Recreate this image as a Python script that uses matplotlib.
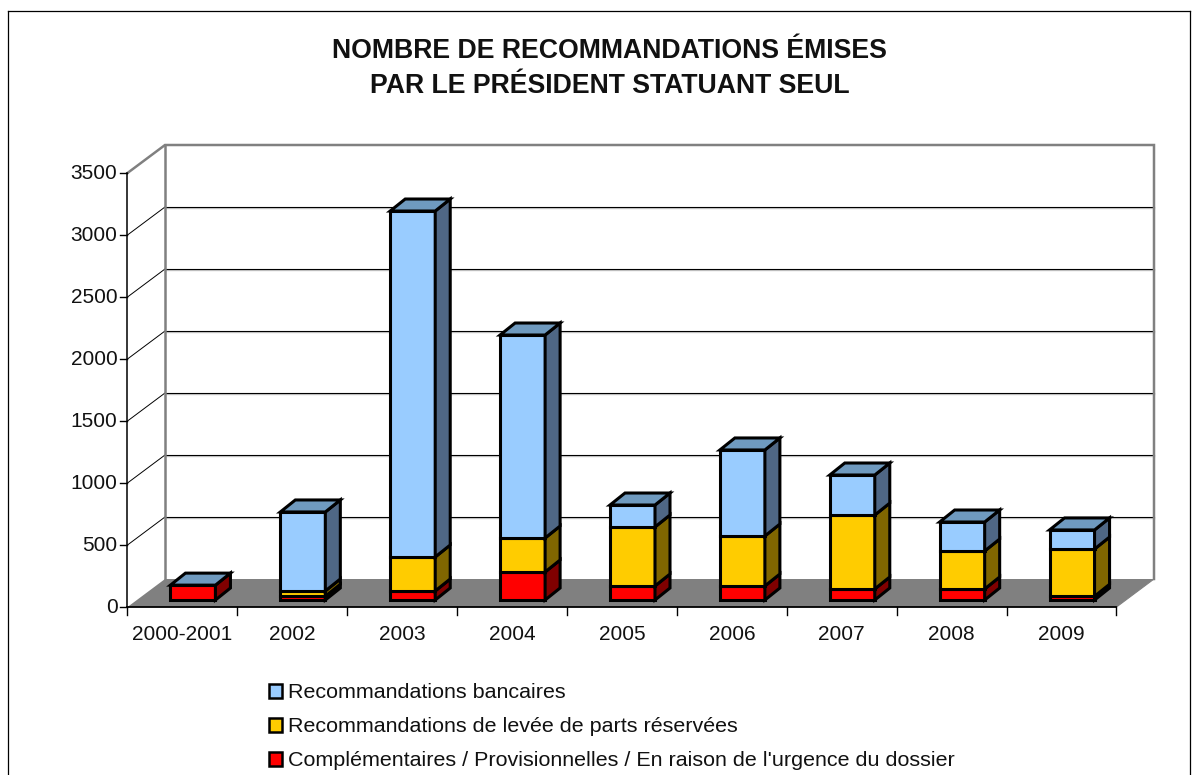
import numpy as np
import matplotlib
matplotlib.use('Agg')
import matplotlib.pyplot as plt
from matplotlib.patches import Patch
from matplotlib.transforms import ScaledTranslation

categories = ['2000-2001', '2002', '2003', '2004', '2005', '2006', '2007', '2008', '2009']
complementaires = [120, 30, 73, 226, 113, 113, 89, 89, 30]
levee_parts = [0, 43, 274, 274, 476, 403, 596, 306, 381]
bancaires = [0, 637, 2790, 1637, 177, 694, 323, 234, 154]
y_ticks = [0, 500, 1000, 1500, 2000, 2500, 3000, 3500]

title = 'NOMBRE DE RECOMMANDATIONS ÉMISES\nPAR LE PRÉSIDENT STATUANT SEUL'
series_labels = ['Recommandations bancaires',
                 'Recommandations de levée de parts réservées',
                 "Complémentaires / Provisionnelles / En raison de l'urgence du dossier"]

W, H = 1198, 775
x0_px, y0_px = 127.5, 607.0      # value 0, first category edge
px_x = (1116.5 - x0_px) / len(categories)   # pixels per category
px_y = 62.0 / 500                # pixels per unit

plt.rcParams['font.family'] = ['Liberation Sans', 'DejaVu Sans']

fig = plt.figure(figsize=(W / 100, H / 100), dpi=100)
ax = fig.add_axes([0, 0, 1, 1])
ax.set_xlim(-x0_px / px_x, (W - x0_px) / px_x)
ax.set_ylim((y0_px - H) / px_y, y0_px / px_y)
ax.axis('off')


def dx(p):
    return p / px_x


def dy(p):
    return p / px_y


n = len(categories)
wall_x, wall_y = dx(37.5), dy(28)
top = y_ticks[-1]
GREY = '#808080'

# outer frame
ax.plot([dx(8 - x0_px)] * 2, [ax.get_ylim()[0], dy(y0_px - 11)], color='k', lw=0.9)
ax.plot([dx(1190 - x0_px)] * 2, [ax.get_ylim()[0], dy(y0_px - 11)], color='k', lw=0.9)
ax.plot([dx(8 - x0_px), dx(1190 - x0_px)], [dy(y0_px - 11)] * 2, color='k', lw=0.9)

# floor
ax.fill([0, n, n + wall_x, wall_x], [0, 0, wall_y, wall_y], color=GREY, lw=0, zorder=1)

# grid lines on the wall and side
shadow = ax.transData + ScaledTranslation(0, -1.2 / 100, fig.dpi_scale_trans)
for v in y_ticks[1:-1]:
    ax.plot([wall_x, n + wall_x], [v + wall_y] * 2, color='#c8c8c8', lw=1.0, zorder=1, transform=shadow)
    ax.plot([wall_x, n + wall_x], [v + wall_y] * 2, color='k', lw=0.8, zorder=1.1)
    ax.plot([0, wall_x], [v, v + wall_y], color='k', lw=0.7, zorder=1.1)

# wall border
ax.plot([0, wall_x, n + wall_x, n + wall_x], [top, top + wall_y, top + wall_y, wall_y],
        color=GREY, lw=1.8, zorder=1.2, solid_joinstyle='miter')
ax.plot([wall_x, wall_x], [wall_y, top + wall_y], color=GREY, lw=1.8, zorder=1.2)
ax.plot([n, n + wall_x], [0, wall_y], color=GREY, lw=0.8, zorder=1.2)

# axes
ax.plot([0, 0], [0, top], color='k', lw=1.1, zorder=1.3)
ax.plot([0, n], [0, 0], color='k', lw=1.3, zorder=1.3)
for v in y_ticks:
    ax.plot([dx(-7), 0], [v, v], color='k', lw=1.0, zorder=1.3)
    ax.text(dx(-10), v + dy(-0.8), str(v), ha='right', va='center', fontsize=15, color='#111111')
for i in range(n + 1):
    ax.plot([i, i], [0, dy(-8)], color='k', lw=1.0, zorder=1.3)
for i, c in enumerate(categories):
    ax.text(i + 0.5, dy(-27), c, ha='center', va='center', fontsize=15, color='#111111')

# stacked 3D bars
fronts = ['#ff0000', '#ffcc00', '#99ccff']
sides = ['#800000', '#806600', '#4f6785']
top_face = '#6f9abf'
bar_w = dx(45)
off_x, off_y = dx(10.5), dy(7)
dep_x, dep_y = dx(15), dy(12)
stacks = [complementaires, levee_parts, bancaires]
ec = dict(edgecolor='k', linewidth=2.2, joinstyle='miter')

for i in range(n):
    left = i + 0.5 - bar_w / 2 + off_x
    right = left + bar_w
    base = off_y
    z = 3 + i
    for vals, fc, sc in zip(stacks, fronts, sides):
        h = vals[i]
        if h <= 0:
            continue
        ax.fill([left, right, right, left], [base, base, base + h, base + h], facecolor=fc, zorder=z, **ec)
        ax.fill([right, right + dep_x, right + dep_x, right],
                [base, base + dep_y, base + h + dep_y, base + h], facecolor=sc, zorder=z, **ec)
        base += h
    ax.fill([left, right, right + dep_x, left + dep_x],
            [base, base, base + dep_y, base + dep_y], facecolor=top_face, zorder=z, **ec)

ax.text(dx(609.5 - x0_px), dy(y0_px - 68.5), title, ha='center', va='center', fontsize=19.2,
        fontweight='bold', linespacing=1.45, color='#111111')

handles = [Patch(facecolor=c, edgecolor='k', linewidth=1.8) for c in fronts[::-1]]
ax.legend(handles, series_labels, frameon=False, fontsize=15.45, ncol=1,
          loc='upper left', bbox_to_anchor=(264.7 / W, 1 - 679 / H),
          handlelength=0.62, handleheight=0.62, handletextpad=0.27,
          labelspacing=0.7, borderpad=0.2, borderaxespad=0, labelcolor='#111111')

fig.savefig('out.png', dpi=100)
